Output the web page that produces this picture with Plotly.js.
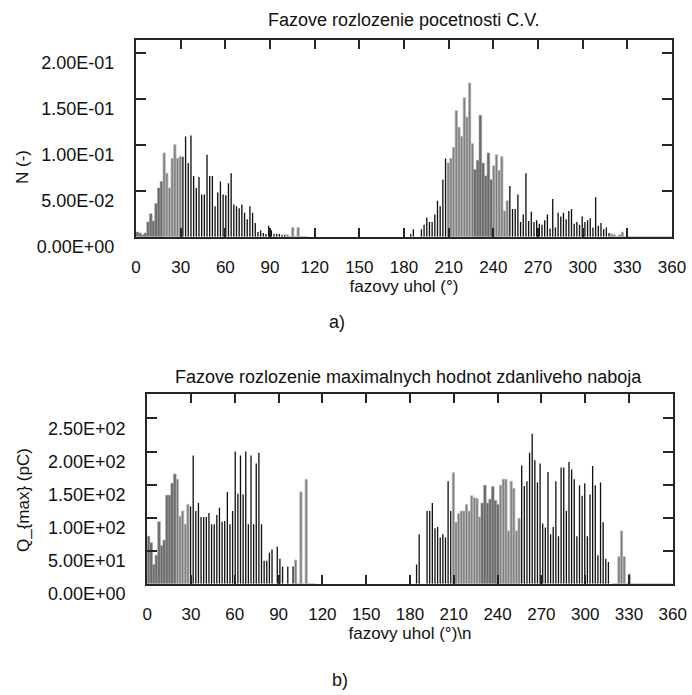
<!DOCTYPE html>
<html><head><meta charset="utf-8">
<script src="https://cdn.plot.ly/plotly-3.0.1.min.js"></script>
<style>html,body{margin:0;padding:0;background:#fff}</style>
</head><body><div id="chart" style="width:692px;height:695px"></div>
<script>
// ---- data ----
const BIN_DEG = 1.8; // phase window width (200 windows over 360 deg)
const countsA = [
 0.005,0.004,0.002,0.004,0.016,0.025,0.017,0.036,0.053,0.060,
 0.091,0.069,0.053,0.085,0.100,0.085,0.087,0.087,0.109,0.080,
 0.110,0.066,0.053,0.065,0.046,0.046,0.089,0.066,0.066,0.033,
 0.048,0.060,0.046,0.045,0.058,0.069,0.035,0.033,0.031,0.035,
 0.026,0.019,0.033,0.026,0.015,0.005,0.007,0.004,0.003,0.012,
 0.007,0.003,0.003,0.003,0.002,0.002,0.002,0,0.010,0,
 0.010,0,0,0,0,0,0,0,0,0,
 0,0,0,0,0,0,0,0,0,0,
 0,0,0,0,0,0,0,0,0,0,
 0,0,0,0,0,0,0,0,0,0,
 0,0,0.003,0.008,0,0,0.008,0.013,0.021,0.016,
 0.016,0.024,0.039,0.033,0.062,0.085,0.080,0.085,0.097,0.137,
 0.119,0.109,0.151,0.130,0.167,0.101,0.073,0.083,0.132,0.080,
 0.066,0.091,0.062,0.077,0.089,0.072,0.087,0.028,0.039,0.055,
 0.030,0.030,0.046,0.016,0.024,0.069,0.017,0.027,0.016,0.018,
 0.014,0.013,0.018,0.024,0.009,0.041,0.010,0.026,0.022,0.026,
 0.019,0.028,0.030,0.014,0.016,0.013,0.022,0.016,0.018,0.020,
 0.010,0.043,0.012,0.015,0.008,0.010,0.004,0.003,0.002,0,
 0.002,0.005,0,0,0,0,0,0,0,0,
 0,0,0,0,0,0,0,0,0,0
];
const qmaxB = [
 72,62,29,43,94,58,66,134,134,152,
 166,158,102,110,90,120,117,194,110,122,
 101,101,101,107,90,90,104,115,94,95,
 139,90,110,200,136,194,135,200,90,194,
 90,182,198,90,35,35,47,52,0,56,
 38,26,0,26,0,26,36,0,139,0,
 158,0,0,0,0,0,0,0,0,0,
 0,0,0,0,0,0,0,0,0,0,
 0,0,0,0,0,0,0,0,0,0,
 0,0,0,0,0,0,0,0,0,0,
 0,0,29,75,0,0,110,110,122,84,
 86,70,75,70,155,110,168,93,106,110,
 110,120,110,133,130,129,101,122,149,122,
 128,147,126,120,149,158,158,80,155,144,
 80,99,179,148,155,198,227,187,153,182,
 91,85,169,75,86,155,72,176,176,110,
 184,173,158,72,149,133,152,72,135,178,
 149,43,153,93,38,33,0,0,0,41,
 80,41,0,15,0,0,0,0,0,0,
 0,0,0,0,0,0,0,0,0,0
];
const xTickVals = [0,30,60,90,120,150,180,210,240,270,300,330,360];
const xTickText = ['0','30','60','90','120','150','180','210','240','270','300','330','360'];
const yTickValsA = [0,0.05,0.10,0.15,0.20];
const yTickTextA = ['0.00E+00','5.00E-02','1.00E-01','1.50E-01','2.00E-01'];
const yTickValsB = [0,50,100,150,200,250];
const yTickTextB = ['0.00E+00','5.00E+01','1.00E+02','1.50E+02','2.00E+02','2.50E+02'];
const titleA = 'Fazove rozlozenie pocetnosti C.V.';
const titleB = 'Fazove rozlozenie maximalnych hodnot zdanliveho naboja';
const xTitleA = 'fazovy uhol (°)';
const xTitleB = 'fazovy uhol (°)\\n';
const yTitleA = 'N (-)';
const yTitleB = 'Q_{max} (pC)';

// ---- styling ----
const W = 692, H = 695;
const FONT = 'Liberation Sans, Arial, sans-serif';
const INK = '#262626';
const STY = {
  k: {w: 0.9,  fill: '#111111', line: '#111111', lw: 0},
  l: {w: 1.5,  fill: '#7c7c7c', line: '#b4b4b4', lw: 0.8},
  g: {w: 1.8,  fill: '#6a6a6a', line: '#a0a0a0', lw: 0.6}
};
const bandsA = [[0,18,'g'],[18,30,'l'],[30,100,'k'],[100,115,'l'],[115,208,'k'],[208,226,'l'],[226,240,'g'],[240,250,'l'],[250,318,'k'],[318,361,'l']];
const bandsB = [[0,20,'g'],[20,29.5,'l'],[29.5,100,'k'],[100,115,'l'],[115,209,'k'],[209,228,'l'],[228,242,'g'],[242,255,'l'],[255,318,'k'],[318,361,'l']];

function styleFor(deg, bands){ for(const b of bands){ if(deg>=b[0] && deg<b[1]) return STY[b[2]]; } return STY.k; }
function mkTrace(vals, bands, xa, ya){
  const x = vals.map((_, i) => (i + 0.5) * BIN_DEG);
  const st = x.map(d => styleFor(d, bands));
  return {type:'bar', x:x, y:vals, xaxis:xa, yaxis:ya, width: st.map(s=>s.w),
    marker:{color: st.map(s=>s.fill), line:{color: st.map(s=>s.line), width: st.map(s=>s.lw)}},
    hoverinfo:'x+y', showlegend:false};
}
const px = v => v / W, py = v => 1 - v / H;

function xAxis(dom, anchor){
  return {domain: dom, anchor: anchor, range:[0,360], tickmode:'array', tickvals:xTickVals, ticktext:xTickText,
    ticks:'inside', ticklen:9, tickwidth:2, tickcolor:INK, showline:true, linewidth:2, linecolor:INK, mirror:'ticks',
    showgrid:false, zeroline:false, tickfont:{family:FONT, size:17, color:'#111'}, ticklabelstandoff:14,
    title:{font:{family:FONT, size:17, color:'#111'}, standoff:2}};
}
function yAxis(dom, anchor, rng, tv, tt, shift){
  return {domain: dom, anchor: anchor, range:rng, tickmode:'array', tickvals:tv, ticktext:tt,
    ticks:'inside', ticklen:10, tickwidth:2, tickcolor:INK, showline:true, linewidth:2, linecolor:INK, mirror:'ticks',
    showgrid:false, zeroline:false, tickfont:{family:FONT, size:18, color:'#111'}, ticklabelshift:shift, ticklabelstandoff:16};
}

const xa1 = xAxis([px(136), px(672)], 'y'); xa1.title.text = xTitleA;
const xa2 = xAxis([px(147.2), px(672.8)], 'y2'); xa2.title.text = xTitleB;
const ya1 = yAxis([py(236.7), py(40)], 'x', [0, 0.2138], yTickValsA, yTickTextA, 10);
const ya2 = yAxis([py(583.8), py(394)], 'x2', [0, 287], yTickValsB, yTickTextB, 10);

const ann = (text, x, y, size, angle) => ({text:text, xref:'paper', yref:'paper', x:px(x), y:py(y),
  xanchor:'center', yanchor:'middle', showarrow:false, textangle:angle||0, font:{family:FONT, size:size, color:'#111'}});

const layout = {
  width:W, height:H, margin:{l:0,r:0,t:0,b:0}, paper_bgcolor:'#fff', plot_bgcolor:'#fff',
  xaxis:xa1, yaxis:ya1, xaxis2:xa2, yaxis2:ya2, bargap:0,
  annotations:[
    ann(titleA, 404, 20, 18),
    ann(titleB, 408, 377, 18),
    ann(yTitleA, 22, 167, 17, -90),
    ann(yTitleB, 23, 500, 17, -90),
    ann('a)', 337, 322, 18),
    ann('b)', 340, 680, 18)
  ]
};
Plotly.newPlot('chart', [mkTrace(countsA, bandsA, 'x', 'y'), mkTrace(qmaxB, bandsB, 'x2', 'y2')], layout, {staticPlot:true});
</script></body></html>
